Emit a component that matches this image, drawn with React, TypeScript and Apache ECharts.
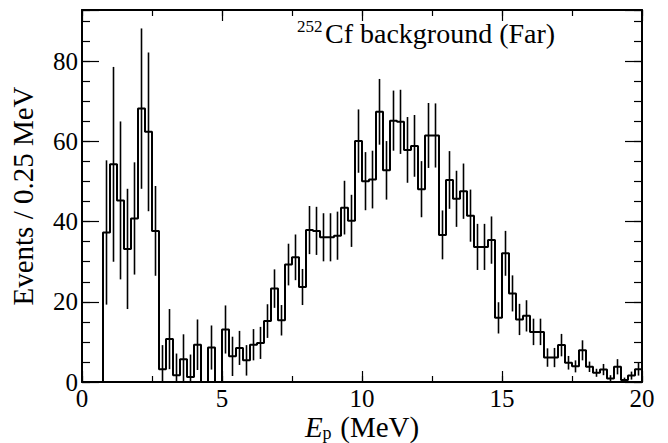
import React, { useEffect, useRef } from "react";
import * as echarts from "echarts";

// Histogram: 80 bins of 0.25 MeV from 0 to 20 MeV
const BIN_WIDTH = 0.25;
const X_MIN = 0;
const X_MAX = 20;
const Y_MIN = 0;
const Y_MAX = 92.8;

const counts: number[] = [
  0, 0, 0,
  37.3, 54.3, 45.3, 33.2, 40.8, 68.2, 62.4, 37.7,
  3.2, 10.7, 1.7, 5.7, 1.25, 9.3, 0, 8.6, 0, 13.1,
  6.4, 8.5, 5.4, 9.3, 9.75, 15.2, 23.3, 15.4, 29.3, 31.1,
  23.7, 37.9, 37.7, 36.1, 36.1, 36.5, 43.5, 40.2, 60.1, 50.1,
  50.5, 67.4, 52.8, 65.2, 64.9, 57.9, 58.9, 48.1, 61.5, 61.5,
  36.7, 50.4, 45.7, 47.6, 41.5, 33.7, 33.7, 35.4, 16.0, 32.1,
  22.1, 15.6, 16.5, 12.5, 12.5, 6.1, 6.1, 9.2, 4.8, 3.9,
  7.9, 3.8, 2.3, 3.1, 0.9, 3.8, 0.5, 1.6, 3.2,
];

const errors: number[] = [
  0, 0, 0,
  18, 24.3, 19.7, 15, 14, 20, 19.8, 11.2,
  6, 7.5, 5.4, 6.2, 5.6, 6.3, 0, 5.5, 0, 6,
  4.9, 4.25, 3.8, 3.9, 4, 4.2, 4.8, 3.8, 5.2, 5.7,
  4.5, 6, 6, 6, 6, 6, 6.7, 6.5, 7.9, 7.25,
  7.2, 8.2, 7.3, 7.5, 8, 8.2, 7.7, 7, 8.1, 8,
  6.1, 7.2, 7, 6.9, 6.5, 5.75, 5.75, 5.9, 3.9, 5.6,
  4.5, 3.9, 3.9, 3.3, 3.3, 2.3, 2.4, 2.8, 1.7, 1.5,
  2.5, 1.3, 1, 1.4, 0.8, 1.9, 0.6, 1, 1.6,
];

const xMajorTicks = 5;
const xMinorTicks = 2.5;
const yMajorTicks = 20;
const yMinorTicks = 5;

const FONT = '"Liberation Serif", "Times New Roman", Times, serif';

export default function App() {
  const ref = useRef<HTMLDivElement>(null);

  useEffect(() => {
    if (!ref.current) return;
    const chart = echarts.init(ref.current, undefined, { renderer: "svg" });

    const stepData: number[][] = counts.map((v, i) => [X_MIN + i * BIN_WIDTH, v]);
    stepData.push([X_MAX, counts[counts.length - 1]]);

    const errData: number[][] = counts.map((v, i) => [
      X_MIN + (i + 0.5) * BIN_WIDTH,
      v,
      errors[i],
    ]);

    const axisLineStyle = { color: "#000", width: 2 };
    const tickStyle = { color: "#000", width: 1.2 };

    const xBase = {
      type: "value" as const,
      min: X_MIN,
      max: X_MAX,
      splitLine: { show: false },
    };
    const yBase = {
      type: "value" as const,
      min: Y_MIN,
      max: Y_MAX,
      splitLine: { show: false },
    };

    chart.setOption({
      animation: false,
      backgroundColor: "#fff",
      grid: {
        left: 82,
        right: 26,
        top: 10,
        bottom: 61,
        containLabel: false,
        outerBoundsMode: "none",
      },
      xAxis: [
        {
          ...xBase,
          position: "bottom",
          interval: xMinorTicks,
          axisLine: { show: true, onZero: false, lineStyle: axisLineStyle },
          axisTick: { show: true, inside: true, length: 6, lineStyle: tickStyle },
          axisLabel: {
            show: true,
            interval: 0,
            margin: 4,
            color: "#000",
            fontFamily: FONT,
            fontSize: 25,
            formatter: (v: number) => (v % xMajorTicks === 0 ? String(v) : ""),
          },
        },
        {
          ...xBase,
          position: "bottom",
          interval: xMajorTicks,
          axisLine: { show: false, onZero: false },
          axisTick: { show: true, inside: true, length: 11, lineStyle: tickStyle },
          axisLabel: { show: false },
        },
        {
          ...xBase,
          position: "top",
          interval: xMinorTicks,
          axisLine: { show: true, onZero: false, lineStyle: axisLineStyle },
          axisTick: { show: true, inside: true, length: 6, lineStyle: tickStyle },
          axisLabel: { show: false },
        },
        {
          ...xBase,
          position: "top",
          interval: xMajorTicks,
          axisLine: { show: false, onZero: false },
          axisTick: { show: true, inside: true, length: 11, lineStyle: tickStyle },
          axisLabel: { show: false },
        },
      ],
      yAxis: [
        {
          ...yBase,
          position: "left",
          interval: yMinorTicks,
          axisLine: { show: true, onZero: false, lineStyle: axisLineStyle },
          axisTick: { show: true, inside: true, length: 8, lineStyle: tickStyle },
          axisLabel: {
            show: true,
            interval: 0,
            margin: 4,
            color: "#000",
            fontFamily: FONT,
            fontSize: 25,
            formatter: (v: number) => (v % yMajorTicks === 0 ? String(v) : ""),
          },
        },
        {
          ...yBase,
          position: "left",
          interval: yMajorTicks,
          axisLine: { show: false, onZero: false },
          axisTick: { show: true, inside: true, length: 17, lineStyle: tickStyle },
          axisLabel: { show: false },
        },
        {
          ...yBase,
          position: "right",
          interval: yMinorTicks,
          axisLine: { show: true, onZero: false, lineStyle: axisLineStyle },
          axisTick: { show: true, inside: true, length: 8, lineStyle: tickStyle },
          axisLabel: { show: false },
        },
        {
          ...yBase,
          position: "right",
          interval: yMajorTicks,
          axisLine: { show: false, onZero: false },
          axisTick: { show: true, inside: true, length: 17, lineStyle: tickStyle },
          axisLabel: { show: false },
        },
      ],
      series: [
        {
          type: "line",
          xAxisIndex: 0,
          yAxisIndex: 0,
          step: "end",
          data: stepData,
          symbol: "none",
          lineStyle: { color: "#000", width: 2 },
          clip: true,
          z: 3,
        },
        {
          type: "custom",
          xAxisIndex: 0,
          yAxisIndex: 0,
          data: errData,
          encode: { x: 0, y: 1 },
          clip: true,
          z: 2,
          renderItem: (params: any, api: any) => {
            const x = api.value(0);
            const v = api.value(1);
            const e = api.value(2);
            if (!e) return null;
            const p1 = api.coord([x, v - e]);
            const p2 = api.coord([x, v + e]);
            return {
              type: "line",
              shape: { x1: p1[0], y1: p1[1], x2: p2[0], y2: p2[1] },
              style: { stroke: "#000", lineWidth: 1.6 },
            };
          },
        },
      ],
      graphic: [
        {
          type: "text",
          x: 23,
          y: 196,
          rotation: Math.PI / 2,
          style: {
            text: "Events / 0.25 MeV",
            font: `29px ${FONT}`,
            fill: "#000",
            align: "center",
            verticalAlign: "middle",
          },
        },
        {
          type: "text",
          x: 305,
          y: 426.5,
          style: {
            text: "E",
            font: `italic 29px ${FONT}`,
            fill: "#000",
            align: "left",
            verticalAlign: "middle",
          },
        },
        {
          type: "text",
          x: 322.5,
          y: 432.5,
          style: {
            text: "p",
            font: `18px ${FONT}`,
            fill: "#000",
            align: "left",
            verticalAlign: "middle",
          },
        },
        {
          type: "text",
          x: 333,
          y: 426.5,
          style: {
            text: " (MeV)",
            font: `29px ${FONT}`,
            fill: "#000",
            align: "left",
            verticalAlign: "middle",
          },
        },
        {
          type: "text",
          x: 297,
          y: 26.6,
          style: {
            text: "252",
            font: `17px ${FONT}`,
            fill: "#000",
            align: "left",
            verticalAlign: "middle",
          },
        },
        {
          type: "text",
          x: 325,
          y: 33,
          style: {
            text: "Cf background (Far)",
            font: `28px ${FONT}`,
            fill: "#000",
            align: "left",
            verticalAlign: "middle",
          },
        },
      ],
    });

    return () => chart.dispose();
  }, []);

  return (
    <div
      ref={ref}
      style={{ position: "fixed", left: 0, top: 0, width: 668, height: 443, background: "#fff" }}
    />
  );
}
